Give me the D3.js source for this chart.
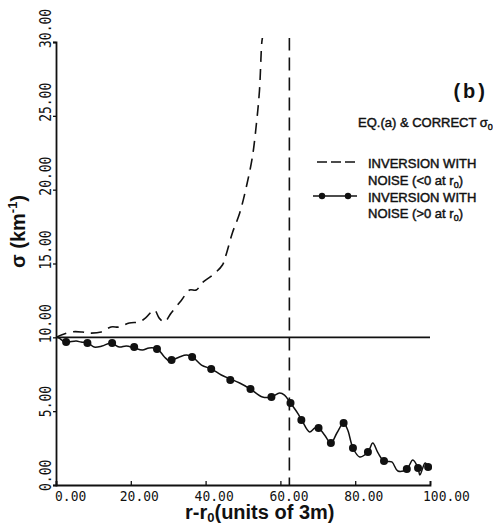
<!DOCTYPE html>
<html>
<head>
<meta charset="utf-8">
<script src="https://cdn.jsdelivr.net/npm/d3@7"></script>
<style>
  body { margin: 0; background: #fff; }
  text { fill: #111; }
  .tick-label { font-family: "DejaVu Sans Mono", monospace; font-size: 13px; }
  .title { font-family: "Liberation Sans", Arial, sans-serif; font-weight: bold; font-size: 20px; }
  .legend { font-family: "Liberation Sans", Arial, sans-serif; font-size: 13px; stroke: #111; stroke-width: 0.45px; }
</style>
</head>
<body>
<div id="chart"></div>
<script>
// tick values
var xTicks = [0, 20, 40, 60, 80, 100];
var yTicks = [0, 5, 10, 15, 20, 25, 30];

// correct sigma_0 (eq. (a))
var trueX = [0, 100];
var trueY = [10, 10];

// inversion with noise (<0 at r0) - dashed, blows up near 55
var negX = [0, 4.0, 7.0, 8.8, 12.1, 14.7, 16.9, 19.6, 22.3, 23.9, 26.3, 27.6, 29.0, 30.8, 33.5, 35.7, 37.5, 39.1, 41.8, 44.5, 45.6, 47.2, 49.1, 50.9, 52.5, 53.6, 54.4, 55.0, 55.2];
var negY = [10.0, 10.36, 10.36, 10.29, 10.36, 10.70, 10.70, 10.97, 11.04, 11.3, 11.85, 11.3, 11.04, 11.65, 12.5, 13.2, 13.2, 13.7, 14.2, 14.9, 15.7, 17.1, 18.4, 20.2, 22.2, 24.5, 26.7, 29.9, 30.3];
// other branch coming back down
var branchX = [62.4, 62.4];
var branchY = [30.3, 0];

// inversion with noise (>0 at r0) - solid curve
var posX = [0, 0.8, 2.4, 5.4, 6.7, 8.6, 10.2, 12.3, 14.7, 16.9, 18.8, 20.9, 23.1, 24.9, 27.1, 29.0, 30.3, 31.1, 33.0, 34.9, 36.5, 38.9, 41.6, 44.2, 46.6, 49.1, 52.0, 55.2, 57.6, 59.8, 61.1, 62.7, 64.6, 65.7, 67.8, 69.2, 70.2, 71.8, 73.5, 75.1, 76.9, 78.0, 79.4, 81.2, 83.4, 84.7, 86.1, 87.7, 89.8, 91.4, 93.8, 95.4, 96.8, 97.3, 98.7, 99.5];
var posY = [10.0, 9.95, 9.68, 9.75, 9.68, 9.61, 9.34, 9.41, 9.61, 9.34, 9.41, 9.28, 9.14, 9.28, 9.21, 8.67, 8.40, 8.46, 8.67, 8.80, 8.67, 8.12, 7.85, 7.45, 7.18, 6.91, 6.50, 5.96, 5.96, 6.23, 6.09, 5.55, 4.87, 4.40, 3.59, 3.86, 3.86, 3.39, 2.84, 3.52, 4.20, 3.72, 2.51, 1.90, 2.23, 2.84, 2.17, 1.62, 1.56, 0.95, 1.08, 1.69, 1.15, 0.68, 1.49, 1.22];
// markers on that curve
var markX = [2.7, 8.4, 15.0, 20.9, 27.0, 30.9, 36.4, 41.5, 46.6, 52.0, 57.6, 62.7, 65.6, 70.2, 73.5, 76.9, 79.4, 83.4, 87.7, 93.8, 96.8, 99.5];
var markY = [9.68, 9.61, 9.61, 9.34, 9.21, 8.46, 8.67, 7.85, 7.11, 6.50, 5.96, 5.55, 4.40, 3.86, 2.84, 4.20, 2.50, 2.23, 1.62, 1.08, 1.15, 1.22];

var svgWidth = 493;
var svgHeight = 527;

var margin = { top: 42, right: 63, bottom: 42, left: 56 };
var width = svgWidth - margin.left - margin.right;
var height = svgHeight - margin.top - margin.bottom;

var svg = d3.select("#chart")
  .append("svg")
  .attr("width", svgWidth)
  .attr("height", svgHeight);

var chartGroup = svg.append("g")
  .attr("transform", `translate(${margin.left}, ${margin.top})`);

var xScale = d3.scaleLinear().domain([0, 100]).range([0, width]);
var yScale = d3.scaleLinear().domain([0, 30]).range([height, 0]);

// axes: x ticks point inward, y ticks outward
var bottomAxis = d3.axisBottom(xScale).tickValues(xTicks).tickSize(-4).tickFormat("");
var leftAxis = d3.axisLeft(yScale).tickValues(yTicks).tickSize(3).tickFormat("");

var xAxis = chartGroup.append("g")
  .attr("transform", `translate(0, ${height})`)
  .call(bottomAxis);
var yAxis = chartGroup.append("g")
  .call(leftAxis);

chartGroup.selectAll(".domain").attr("stroke", "#111").attr("stroke-width", 1.8);
chartGroup.selectAll(".tick line").attr("stroke", "#111").attr("stroke-width", 1.3);

// x tick labels (old plotter style, slightly stretched)
xAxis.selectAll(".xlab")
  .data(xTicks)
  .enter()
  .append("text")
  .attr("class", "tick-label")
  .attr("text-anchor", "start")
  .attr("transform", (d, i) => {
    var dx = i === 0 ? -1 : (i === xTicks.length - 1 ? -7 : -11);
    return `translate(${xScale(d) + dx}, 16) scale(1, 1.15)`;
  })
  .text(d => d.toFixed(2));

// y tick labels, rotated
yAxis.selectAll(".ylab")
  .data(yTicks)
  .enter()
  .append("text")
  .attr("class", "tick-label")
  .attr("text-anchor", "start")
  .attr("transform", d => `translate(-5, ${yScale(d) + 6}) rotate(-90) scale(1, 1.2)`)
  .text(d => d.toFixed(2));

// axis titles
var xTitle = svg.append("text")
  .attr("class", "title")
  .attr("x", 185)
  .attr("y", 519);
xTitle.append("tspan").text("r-r");
xTitle.append("tspan").attr("font-size", "13px").attr("dy", 3).text("0");
xTitle.append("tspan").attr("dy", -3).text("(units of 3m)");

var yTitle = svg.append("text")
  .attr("class", "title")
  .attr("transform", "translate(25, 268) rotate(-90)");
yTitle.append("tspan").text("σ (km");
yTitle.append("tspan").attr("font-size", "13px").attr("dy", -8).text("-1");
yTitle.append("tspan").attr("dy", 8).text(")");

// line generators
var line = d3.line()
  .x(d => xScale(d[0]))
  .y(d => yScale(d[1]));
var smooth = d3.line()
  .curve(d3.curveCatmullRom)
  .x(d => xScale(d[0]))
  .y(d => yScale(d[1]));

// clip so the blow-up stays inside the frame
svg.append("defs").append("clipPath")
  .attr("id", "plotClip")
  .append("rect")
  .attr("x", 0).attr("y", -4)
  .attr("width", width + 2).attr("height", height + 4);

var plot = chartGroup.append("g").attr("clip-path", "url(#plotClip)");

// correct sigma
plot.append("path")
  .datum(d3.zip(trueX, trueY))
  .attr("d", line)
  .attr("fill", "none")
  .attr("stroke", "#111")
  .attr("stroke-width", 1.8);

// dashed inversion
plot.append("path")
  .datum(d3.zip(negX, negY))
  .attr("d", smooth)
  .attr("fill", "none")
  .attr("stroke", "#111")
  .attr("stroke-width", 1.6)
  .attr("stroke-dasharray", "11,7");
plot.append("path")
  .datum(d3.zip(branchX, branchY))
  .attr("d", line)
  .attr("fill", "none")
  .attr("stroke", "#111")
  .attr("stroke-width", 1.6)
  .attr("stroke-dasharray", "13,7");

// solid inversion with dots
plot.append("path")
  .datum(d3.zip(posX, posY))
  .attr("d", smooth)
  .attr("fill", "none")
  .attr("stroke", "#111")
  .attr("stroke-width", 1.5);
plot.selectAll("circle")
  .data(d3.zip(markX, markY))
  .enter()
  .append("circle")
  .attr("cx", d => xScale(d[0]))
  .attr("cy", d => yScale(d[1]))
  .attr("r", 4)
  .attr("fill", "#111");

// panel label and legend
svg.append("text")
  .attr("class", "title")
  .attr("x", 488)
  .attr("y", 98)
  .attr("text-anchor", "end")
  .attr("letter-spacing", "3px")
  .text("(b)");

var eq = svg.append("text")
  .attr("class", "legend")
  .attr("font-size", "12px")
  .attr("x", 358)
  .attr("y", 127);
eq.append("tspan").text("EQ.(a) & CORRECT σ");
eq.append("tspan").attr("font-size", "9px").attr("dy", 3).text("0");

svg.append("line")
  .attr("x1", 317).attr("x2", 355)
  .attr("y1", 162).attr("y2", 162)
  .attr("stroke", "#111")
  .attr("stroke-width", 1.6)
  .attr("stroke-dasharray", "10,4");

svg.append("text").attr("class", "legend").attr("x", 368).attr("y", 168).text("INVERSION WITH");
var l1 = svg.append("text").attr("class", "legend").attr("x", 368).attr("y", 185);
l1.append("tspan").text("NOISE (<0 at r");
l1.append("tspan").attr("font-size", "9px").attr("dy", 3).text("0");
l1.append("tspan").attr("dy", -3).text(")");

svg.append("line")
  .attr("x1", 313).attr("x2", 357)
  .attr("y1", 196).attr("y2", 196)
  .attr("stroke", "#111")
  .attr("stroke-width", 1.5);
svg.selectAll(".legdot")
  .data([322, 348])
  .enter()
  .append("circle")
  .attr("cx", d => d)
  .attr("cy", 196)
  .attr("r", 3.2)
  .attr("fill", "#111");

svg.append("text").attr("class", "legend").attr("x", 368).attr("y", 202).text("INVERSION WITH");
var l2 = svg.append("text").attr("class", "legend").attr("x", 368).attr("y", 218);
l2.append("tspan").text("NOISE (>0 at r");
l2.append("tspan").attr("font-size", "9px").attr("dy", 3).text("0");
l2.append("tspan").attr("dy", -3).text(")");
</script>
</body>
</html>
